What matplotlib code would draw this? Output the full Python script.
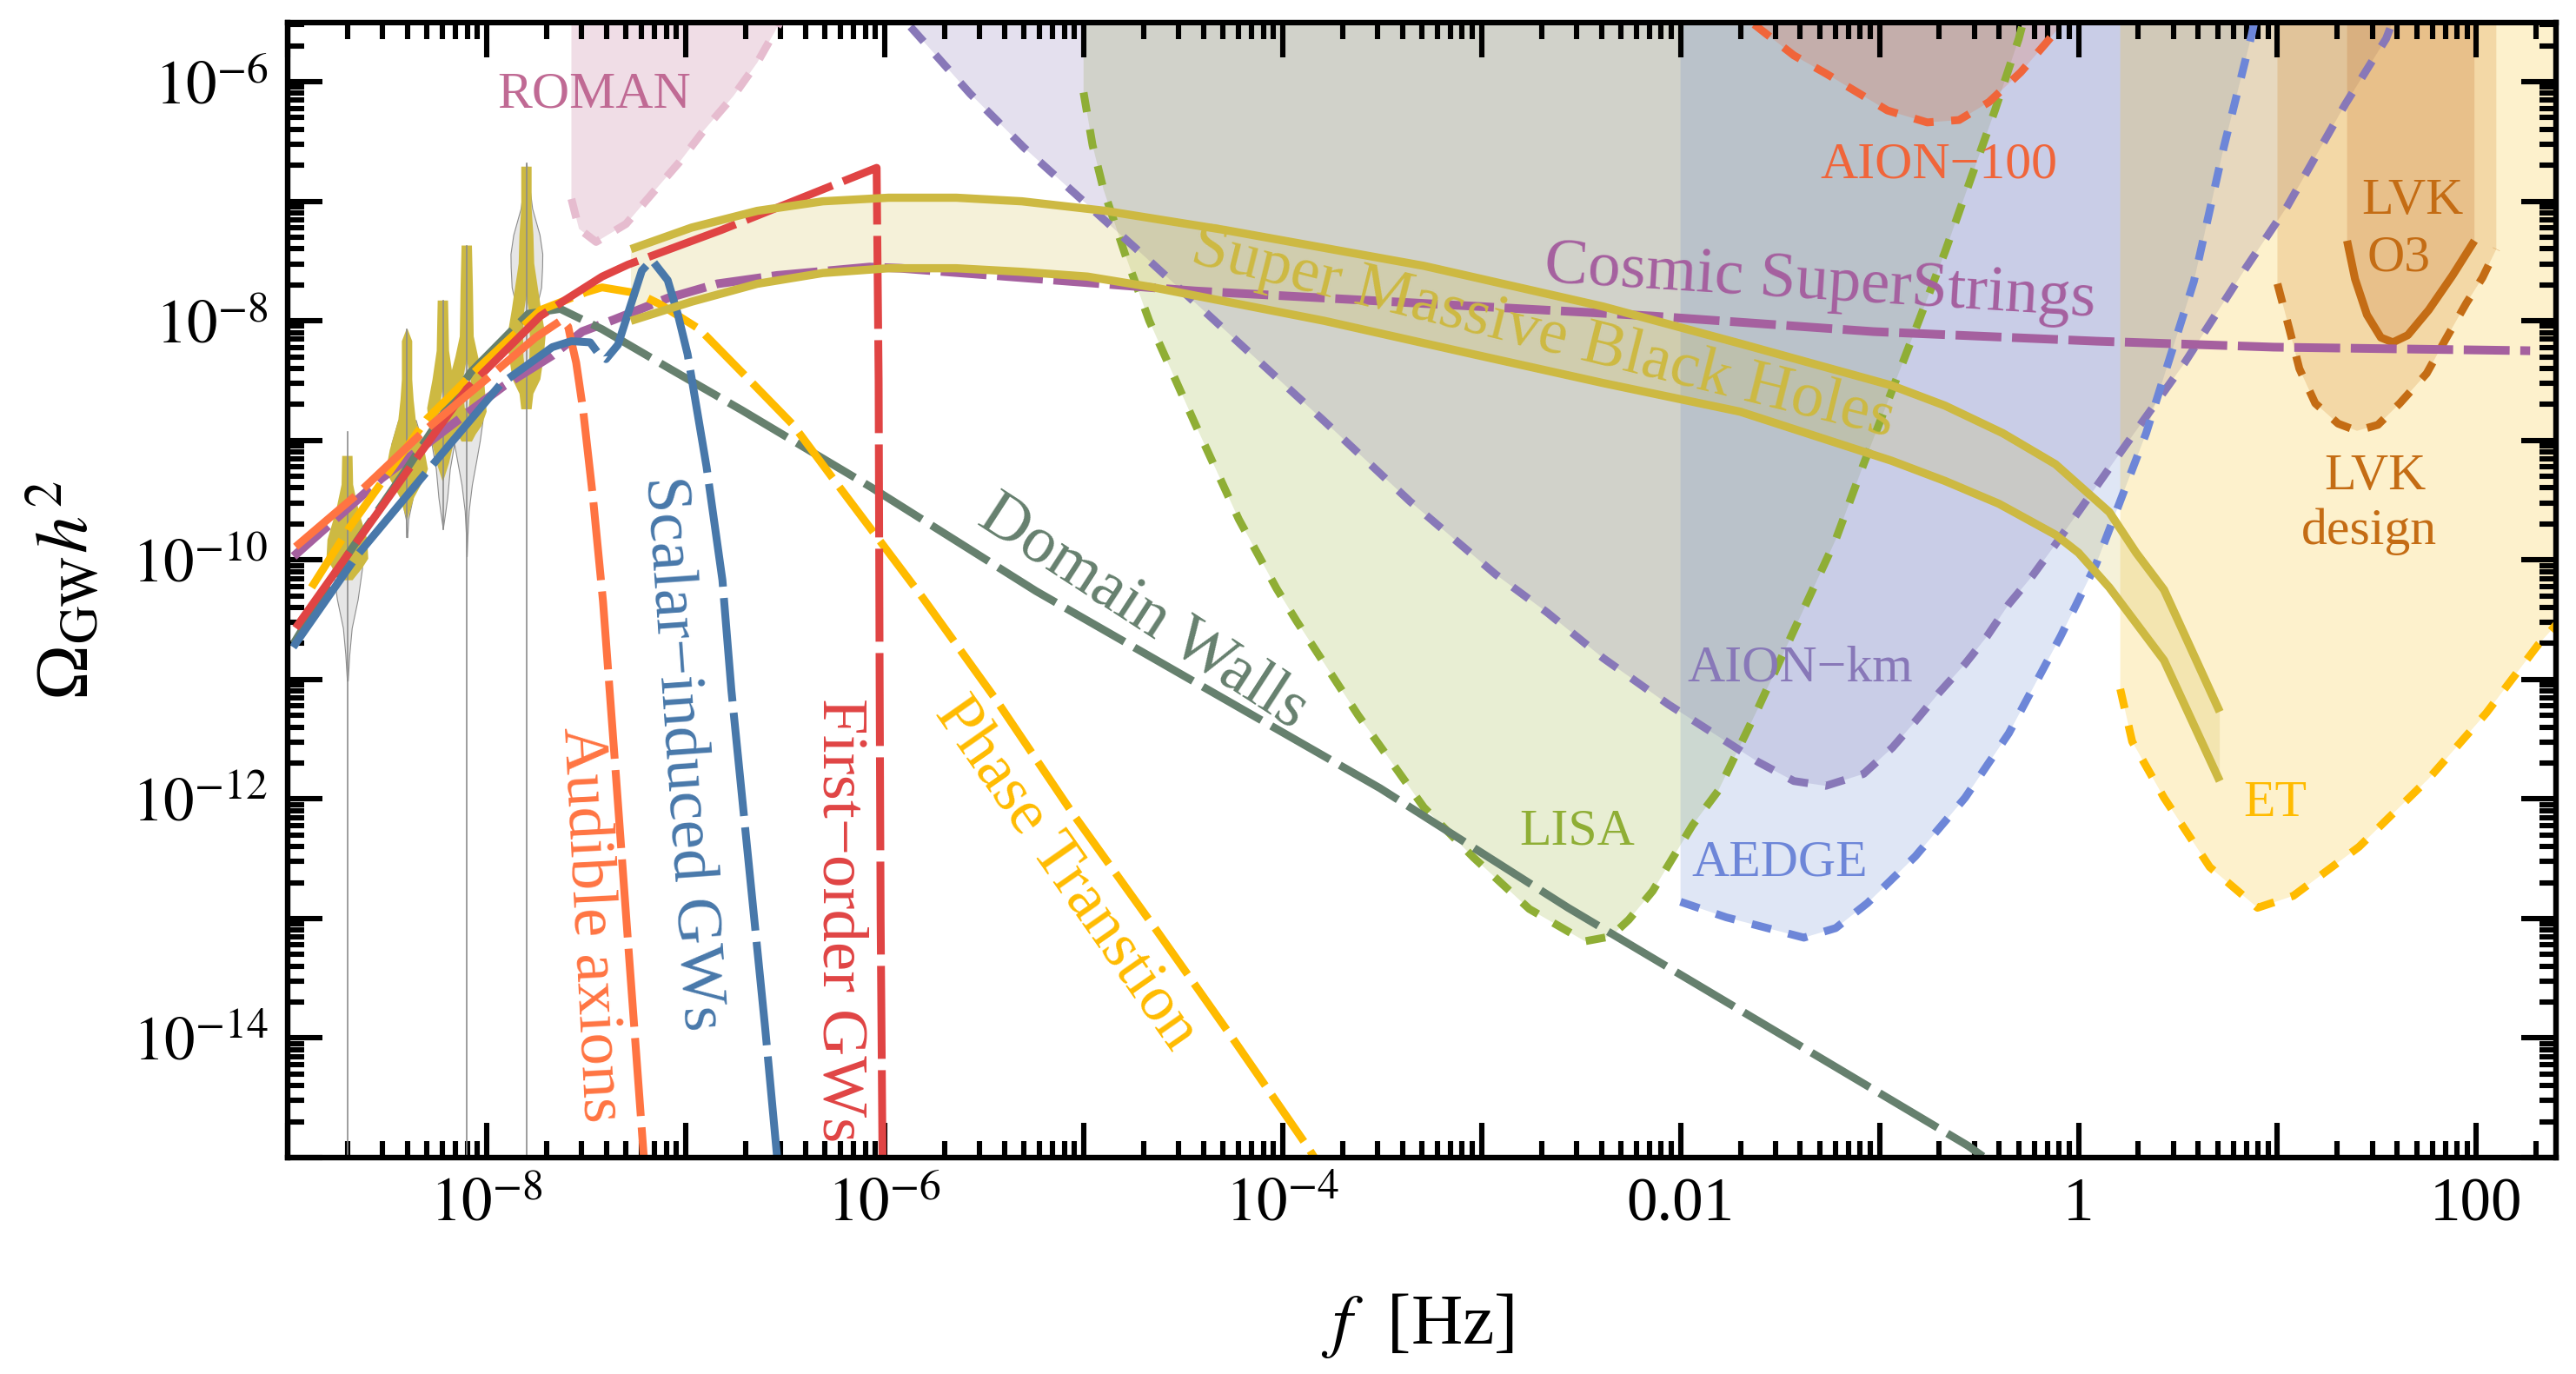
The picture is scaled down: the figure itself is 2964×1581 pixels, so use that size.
import matplotlib
matplotlib.use('Agg')
import numpy as np
import matplotlib.pyplot as plt

plt.rcParams['font.family'] = ['Liberation Serif', 'DejaVu Serif']
plt.rcParams['mathtext.fontset'] = 'stix'
plt.rcParams['lines.scale_dashes'] = False

# everything below is log10(f), log10(Omega)
XLIM = (-9.0, 2.40)
YLIM = (-15.0, -5.505)
TOP = -5.3

roman_f = [-7.574, -7.536, -7.45, -7.30, -7.15, -7.03, -6.91, -6.76, -6.64, -6.555, -6.51]
roman_o = [-6.98, -7.23, -7.34, -7.19, -6.90, -6.67, -6.41, -6.12, -5.84, -5.59, -5.45]

lisa_f = [-5.0, -4.955, -4.90, -4.79, -4.67, -4.44, -4.22, -4.03, -3.93, -3.62, -3.29, -3.04, -2.76, -2.48, -2.35,
          -2.26, -2.14, -1.94, -1.81, -1.61, -1.35, -1.22, -1.08, -0.80, -0.67, -0.42, -0.30, -0.27]
lisa_o = [-6.09, -6.53, -6.90, -7.45, -8.0, -8.86, -9.66, -10.24, -10.51, -11.30, -12.07, -12.49, -12.92, -13.19, -13.15,
          -13.01, -12.77, -12.22, -11.93, -11.24, -10.30, -9.83, -9.20, -7.99, -7.42, -6.24, -5.64, -5.45]

aion_km_f = [-5.87, -5.57, -5.30, -5.02, -4.74, -4.34, -3.79, -3.36, -2.93, -2.67, -2.39, -2.06, -1.61, -1.43, -1.27,
             -1.08, -0.935, -0.82, -0.70, -0.57, -0.46, -0.35, -0.23, -0.12, 0.22, 0.53, 0.84, 1.05, 1.34, 1.546, 1.59]
aion_km_o = [-5.54, -6.10, -6.55, -6.97, -7.39, -8.0, -8.84, -9.51, -10.12, -10.44, -10.82, -11.21, -11.69, -11.85, -11.89,
             -11.79, -11.57, -11.35, -11.11, -10.87, -10.64, -10.37, -10.13, -9.88, -9.08, -8.36, -7.56, -7.04, -6.19, -5.64, -5.45]

aedge_f = [-2.0, -1.77, -1.38, -1.22, -1.06, -0.82, -0.57, -0.35, -0.09, 0.09, 0.34, 0.58, 0.73, 0.87, 0.89]
aedge_o = [-12.86, -12.99, -13.16, -13.08, -12.87, -12.48, -11.99, -11.45, -10.64, -10.03, -8.94, -7.67, -6.55, -5.61, -5.45]

et_f = [0.21, 0.27, 0.43, 0.66, 0.90, 1.08, 1.41, 1.76, 2.05, 2.31, 2.375, 2.45]
et_o = [-11.08, -11.52, -11.99, -12.57, -12.91, -12.81, -12.40, -11.83, -11.28, -10.71, -10.59, -10.45]

lvk_f = [1.0, 1.06, 1.11, 1.19, 1.305, 1.40, 1.505, 1.615, 1.75, 1.84, 1.95, 2.03, 2.10]
lvk_o = [-7.69, -8.07, -8.40, -8.69, -8.86, -8.92, -8.87, -8.69, -8.44, -8.17, -7.85, -7.64, -7.40]

o3_f = [1.35, 1.39, 1.45, 1.52, 1.58, 1.655, 1.76, 1.88, 1.99]
o3_o = [-7.33, -7.65, -7.95, -8.14, -8.18, -8.12, -7.91, -7.62, -7.33]

aion100_f = [-1.63, -1.43, -1.27, -1.11, -0.96, -0.76, -0.60, -0.45, -0.29, -0.16, -0.09]
aion100_o = [-5.52, -5.78, -5.93, -6.09, -6.24, -6.34, -6.32, -6.17, -5.92, -5.67, -5.53]

# signals
firstorder_f = [-8.96, -8.70, -8.40, -8.10, -7.73, -7.60, -7.42, -7.29, -6.82, -6.07, -6.04, -6.03, -6.025, -6.02, -6.01]
firstorder_o = [-10.57, -9.96, -9.26, -8.57, -7.96, -7.82, -7.63, -7.53, -7.24, -6.74, -6.72, -8.5, -11.0, -13.0, -15.1]

axion_f = [-8.96, -8.65, -8.32, -7.96, -7.755, -7.62, -7.59, -7.58, -7.55, -7.515, -7.465, -7.415, -7.35, -7.285, -7.21]
axion_o = [-9.89, -9.45, -8.93, -8.43, -8.14, -7.99, -8.05, -8.13, -8.35, -8.75, -9.49, -10.35, -11.81, -13.30, -15.0]

scalar_f = [-8.973, -8.65, -8.32, -7.93, -7.67, -7.574, -7.48, -7.44, -7.40, -7.34, -7.29, -7.22, -7.17, -7.09, -7.04,
            -6.99, -6.895, -6.815, -6.77, -6.60, -6.54]
scalar_o = [-10.73, -9.96, -9.30, -8.53, -8.22, -8.17, -8.18, -8.27, -8.32, -8.20, -7.94, -7.58, -7.49, -7.66, -7.94,
            -8.28, -9.22, -10.17, -11.09, -13.92, -15.0]

phase_f = [-8.88, -8.69, -8.30, -8.02, -7.73, -7.50, -7.42, -7.24, -7.13, -6.93, -6.70, -6.46, -6.25, -5.807, -5.444,
           -5.055, -4.654, -4.26, -3.87, -3.84]
phase_o = [-10.23, -9.73, -8.82, -8.36, -7.91, -7.76, -7.72, -7.77, -7.86, -8.07, -8.46, -8.87, -9.34, -10.32, -11.16,
           -12.12, -13.05, -13.98, -14.92, -15.0]

walls_f = [-8.97, -8.70, -8.39, -8.08, -7.79, -7.63, -7.42, -7.07, -6.72, -6.07, -5.24, -3.51, -2.565, -0.556, -0.48]
walls_o = [-10.70, -9.96, -9.21, -8.43, -7.94, -7.90, -8.07, -8.41, -8.745, -9.39, -10.26, -11.91, -12.91, -14.90, -14.99]

strings_f = [-8.97, -8.53, -8.12, -7.91, -7.67, -7.52, -7.36, -7.09, -6.84, -6.54, -6.075, -5.92, -4.44, -2.46, -2.14,
             -1.03, 0.09, 0.98, 2.27]
strings_o = [-9.97, -9.32, -8.80, -8.54, -8.29, -8.09, -7.99, -7.81, -7.69, -7.62, -7.55, -7.56, -7.75, -7.93, -7.96,
             -8.09, -8.17, -8.22, -8.25]

smbh_up_f = [-7.275, -6.97, -6.64, -6.31, -5.98, -5.64, -5.31, -4.89, -4.29, -3.29, -2.39, -1.70, -0.94, -0.67, -0.38,
             -0.115, 0.155, 0.29, 0.43, 0.71]
smbh_up_o = [-7.40, -7.22, -7.08, -7.0, -6.97, -6.97, -7.0, -7.08, -7.24, -7.54, -7.88, -8.19, -8.54, -8.71, -8.94,
             -9.20, -9.60, -9.94, -10.25, -11.27]
smbh_lo_f = [-7.275, -6.97, -6.64, -6.31, -5.98, -5.64, -5.31, -4.98, -4.65, -3.79, -3.04, -2.39, -1.70, -0.94, -0.67,
             -0.40, -0.115, 0.0, 0.155, 0.43, 0.71]
smbh_lo_o = [-8.0, -7.84, -7.69, -7.60, -7.56, -7.56, -7.59, -7.63, -7.72, -8.0, -8.28, -8.52, -8.76, -9.17, -9.34,
             -9.53, -9.79, -9.94, -10.23, -10.84, -11.85]

# pulsar timing violins: centre frequency, then (log Omega, half width in dex)
pta_f = [-8.70, -8.40, -8.22, -8.10, -7.80]
pta_line_top = [-8.93, -8.07, -7.83, -7.37, -6.68]
pta_line_bottom = [-15.0, -9.81, -9.74, -15.0, -15.0]

grey_o = [[-9.66, -10.07, -10.33, -10.57, -10.79, -11.01],
          [-8.83, -9.03, -9.24, -9.43, -9.66, -9.81],
          [-8.81, -9.0, -9.24, -9.48, -9.59, -9.74],
          [-8.52, -8.83, -9.0, -9.17, -9.37, -9.59, -9.80, -9.97],
          [-6.68, -7.06, -7.28, -7.44, -7.55, -7.72, -7.84, -8.2]]
grey_w = [[.052, .074, .052, .022, .01, .002],
          [.044, .079, .07, .035, .006, .001],
          [.06, .06, .035, .022, .013, .0],
          [.05, .08, .066, .048, .026, .01, .0035, .0],
          [0, .029, .066, .08, .079, .074, .057, .026]]

gold_o = [[-9.13, -9.37, -9.59, -9.83, -9.99, -10.07, -10.17],
          [-8.07, -8.17, -8.49, -8.66, -8.83, -9.08, -9.24, -9.32, -9.48, -9.66],
          [-7.83, -8.25, -8.49, -8.73, -8.81, -9.0, -9.19, -9.34],
          [-7.37, -7.72, -8.13, -8.30, -8.49, -8.76, -8.88, -8.95, -9.01],
          [-6.71, -7.06, -7.28, -7.52, -7.72, -7.91, -8.13, -8.30, -8.49, -8.61, -8.74]]
gold_w = [[.026, .029, .057, .10, .105, .074, .026],
          [.003, .026, .026, .033, .044, .087, .105, .087, .035, .002],
          [.026, .031, .052, .079, .074, .057, .031, .002],
          [.026, .031, .035, .057, .087, .10, .074, .045, .026],
          [.026, .026, .035, .039, .057, .074, .096, .087, .07, .035, .026]]

slit_f = [-8.22, -8.10, -7.80]
slit_o = [[-8.57, -8.70, -8.81], [-8.32, -8.52, -8.73], [-7.79, -7.91, -8.13, -8.30, -8.49]]
slit_w = [[0, .015, .022], [0, .022, .01], [0, .011, .017, .015, .001]]

xtick_exp = list(range(-9, 3))
xtick_labels = ['', r'$10^{-8}$', '', r'$10^{-6}$', '', r'$10^{-4}$', '', '0.01', '', '1', '', '100']
ytick_exp = list(range(-15, -5))
ytick_labels = ['', r'$10^{-14}$', '', r'$10^{-12}$', '', r'$10^{-10}$', '', r'$10^{-8}$', '', r'$10^{-6}$']


def region(ax, lf, lo, color):
    # shaded area above a sensitivity curve, closed along the top of the plot
    xs = np.array([lf[0]] + list(lf) + [lf[-1]])
    ys = np.array([TOP] + list(lo) + [TOP])
    ax.fill(10.0**xs, 10.0**ys, color=color, alpha=0.2, lw=0)


def curve(ax, lf, lo, color, dashes=None, lw=3.25, **kw):
    ls = (0, dashes) if dashes else '-'
    ax.plot(10.0**np.array(lf), 10.0**np.array(lo), color=color, lw=lw, ls=ls,
            dash_capstyle='butt', solid_capstyle='butt', **kw)


def violin(ax, f0, lo, w, **kw):
    lo = np.array(lo)
    w = np.array(w)
    ax.fill_betweenx(10.0**lo, 10.0**(f0 - w), 10.0**(f0 + w), **kw)


fig = plt.figure(figsize=(14.82, 7.905), dpi=200)
ax = fig.add_axes([331/2964, 1 - 1332/1581, 2610/2964, 1306/1581])
ax.set_xscale('log')
ax.set_yscale('log')
ax.set_xlim(10.0**XLIM[0], 10.0**XLIM[1])
ax.set_ylim(10.0**YLIM[0], 10.0**YLIM[1])

# violins first, everything else sits on top
for i, f0 in enumerate(pta_f):
    ax.plot([10.0**f0]*2, [10.0**pta_line_bottom[i], 10.0**pta_line_top[i]], color='#8c8c8c', lw=0.6)
    violin(ax, f0, grey_o[i], grey_w[i], facecolor='#e6e6e6', edgecolor='#8c8c8c', lw=0.4)
for i, f0 in enumerate(pta_f):
    violin(ax, f0, gold_o[i], gold_w[i], facecolor='#cdb942', edgecolor='none', lw=0)
for i, f0 in enumerate(slit_f):
    violin(ax, f0, slit_o[i], slit_w[i], facecolor='#e6e6e6', edgecolor='none', lw=0)

# sensitivity regions
short = (8.2, 7.3)
region(ax, lisa_f, lisa_o, '#8caa23')
curve(ax, lisa_f, lisa_o, '#8fae35', short)
region(ax, aion_km_f, aion_km_o, '#7864aa')
region(ax, aedge_f, aedge_o, '#5f82cd')
region(ax, et_f, et_o, '#f5b900')
curve(ax, aion_km_f, aion_km_o, '#8878b8', short)
curve(ax, aedge_f, aedge_o, '#6d86d8', short)
curve(ax, et_f, et_o, '#ffbb00', short)
region(ax, lvk_f, lvk_o, '#cb740e')
curve(ax, lvk_f, lvk_o, '#c46c14', short)
region(ax, o3_f, o3_o, '#bc601a')
curve(ax, o3_f, o3_o, '#c46c14', lw=3.3)
region(ax, aion100_f, aion100_o, '#ee6030')
curve(ax, aion100_f, aion100_o, '#f0653a', short)
region(ax, roman_f, roman_o, '#b45582')
curve(ax, roman_f, roman_o, '#e6bccf', short)

# signal curves
curve(ax, strings_f, strings_o, '#a5609f', (19, 4.4), lw=3.6)
curve(ax, walls_f, walls_o, '#66806e', (28, 4.7))
curve(ax, phase_f, phase_o, '#ffbb00', (23.4, 4.7))
curve(ax, firstorder_f, firstorder_o, '#e04444', (38.5, 4.7))
curve(ax, axion_f, axion_o, '#ff7442', (32.4, 4.7))
curve(ax, scalar_f, scalar_o, '#4878aa', (43, 4.7))

# SMBH band
band_x = 10.0**np.array(smbh_up_f + smbh_lo_f[::-1])
band_y = 10.0**np.array(smbh_up_o + smbh_lo_o[::-1])
ax.fill(band_x, band_y, color='#cdb942', alpha=0.2, lw=0)
curve(ax, smbh_up_f, smbh_up_o, '#cdb942', lw=3.4)
curve(ax, smbh_lo_f, smbh_lo_o, '#cdb942', lw=3.4)

# labels
big = 27
small = 21.5
labels = [
    ('ROMAN', -7.46, -6.11, small, '#c06a94', 0),
    (u'AION\u2212100', -0.70, -6.70, small, '#f0653a', 0),
    ('Cosmic SuperStrings', -1.30, -7.69, big, '#a5609f', -3.6),
    (u'AION\u2212km', -1.40, -10.91, small, '#8878b8', 0),
    ('LISA', -2.52, -12.28, small, '#8fae35', 0),
    ('AEDGE', -1.50, -12.54, small, '#6d86d8', 0),
    ('ET', 0.99, -12.04, small, '#ffbb00', 0),
    ('LVK', 1.68, -7.0, small, '#c46c14', 0),
    ('O3', 1.61, -7.48, small, '#c46c14', 0),
    ('LVK', 1.49, -9.31, small, '#c46c14', 0),
    ('design', 1.46, -9.76, small, '#c46c14', 0),
    ('Super Massive Black Holes', -2.69, -8.11, big, '#cdb942', -14),
    ('Domain Walls', -4.70, -10.44, 27.5, '#66806e', -33),
    ('Phase Transtion', -5.09, -12.63, big, '#ffbb00', -55),
    (u'Scalar\u2212induced GWs', -7.02, -11.62, big, '#4878aa', -86),
    (u'First\u2212order GWs', -6.23, -13.01, big, '#e04444', -90),
    ('Audible axions', -7.48, -13.05, big, '#ff7442', -87),
]
for txt, lf, lo, size, col, rot in labels:
    ax.text(10.0**lf, 10.0**lo, txt, fontsize=size, color=col, rotation=rot,
            ha='center', va='center', rotation_mode='anchor')

# frame and ticks
for s in ax.spines.values():
    s.set_linewidth(2.3)
    s.set_zorder(10)
minor_sub = np.arange(2, 10)
x_minor = [10.0**e * m for e in range(-9, 3) for m in minor_sub]
y_minor = [10.0**e * m for e in range(-15, -5) for m in minor_sub]
ax.set_xticks([10.0**e for e in xtick_exp], xtick_labels)
ax.set_yticks([10.0**e for e in ytick_exp], ytick_labels)
ax.set_xticks([v for v in x_minor if 10.0**XLIM[0] < v < 10.0**XLIM[1]], minor=True)
ax.set_yticks([v for v in y_minor if 10.0**YLIM[0] < v < 10.0**YLIM[1]], minor=True)
ax.tick_params(which='major', direction='in', top=True, right=True, length=14.4, width=2.2, labelsize=25.5, pad=8)
ax.tick_params(which='minor', direction='in', top=True, right=True, length=7, width=2.2, labelbottom=False, labelleft=False)

ax.set_xlabel(r'$f$  [Hz]', fontsize=29.5, va='center')
ax.xaxis.set_label_coords(0.498, -0.148)
ax.set_ylabel(u'\u03a9' + r'$_{\mathrm{GW}}h^2$', fontsize=31, va='center')
ax.yaxis.set_label_coords(-0.0977, 0.5)

fig.savefig('out.png', dpi=200)
